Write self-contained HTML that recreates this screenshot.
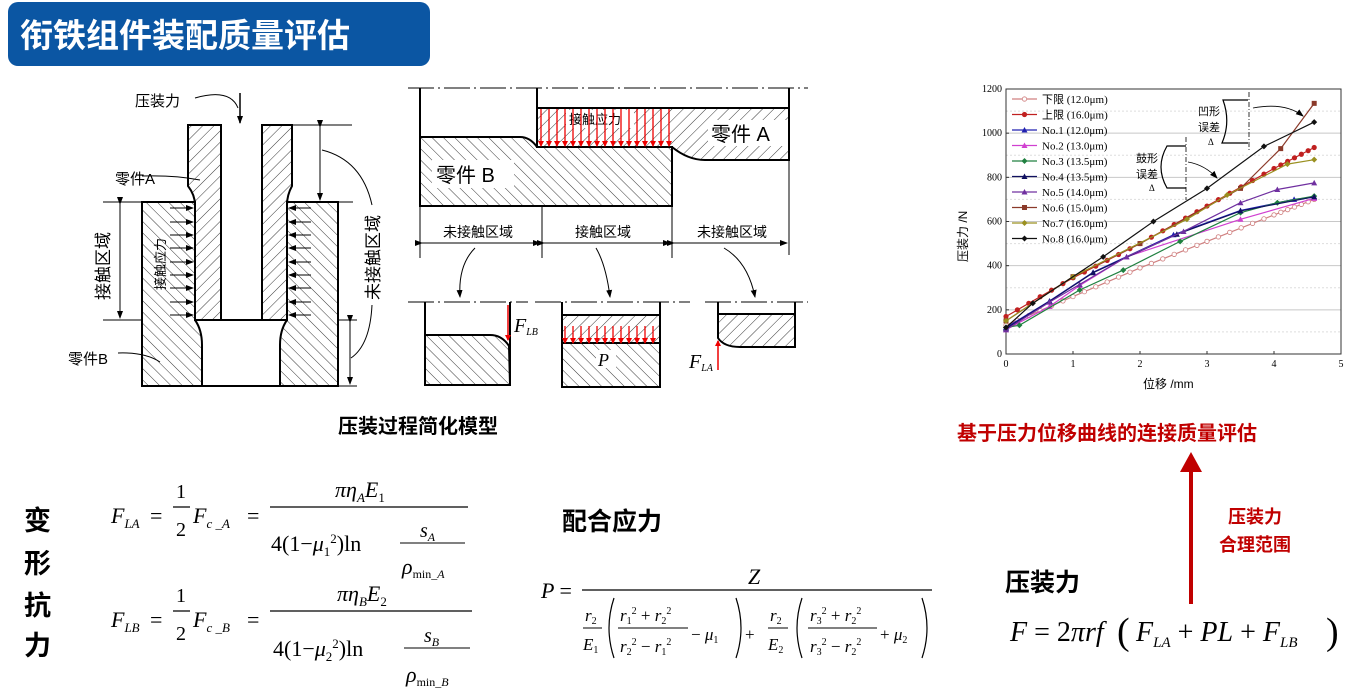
<!DOCTYPE html>
<html><head><meta charset="utf-8"><style>
html,body{margin:0;padding:0;background:#fff;}
svg{display:block;}
.cj{font-family:"Liberation Sans","Noto Sans CJK SC",sans-serif;}
.m{font-family:"Liberation Serif","DejaVu Serif",serif;font-style:italic;}
.r{font-family:"Liberation Serif","DejaVu Serif",serif;}
</style></head><body>
<svg id="s" width="1350" height="698" viewBox="0 0 1350 698" xmlns="http://www.w3.org/2000/svg">
<defs>
<pattern id="hb" patternUnits="userSpaceOnUse" width="8" height="8" patternTransform="rotate(45)"><line x1="0" y1="0" x2="0" y2="8" stroke="#222" stroke-width="0.9"/></pattern>
<pattern id="hf" patternUnits="userSpaceOnUse" width="8" height="8" patternTransform="rotate(-45)"><line x1="0" y1="0" x2="0" y2="8" stroke="#222" stroke-width="0.9"/></pattern>
<marker id="ab" markerWidth="8" markerHeight="8" refX="7" refY="4" orient="auto" markerUnits="userSpaceOnUse"><path d="M0,1 L8,4 L0,7 Z" fill="#000"/></marker>
<marker id="ar" markerWidth="6" markerHeight="8" refX="5" refY="4" orient="auto" markerUnits="userSpaceOnUse"><path d="M0,1 L6,4 L0,7 Z" fill="#e00"/></marker>
</defs>

<rect x="8" y="2" width="422" height="64" rx="10" fill="#0b56a3"/>
<text x="20" y="47" class="cj" font-size="33" font-weight="bold" fill="#fff">衔铁组件装配质量评估</text>

<g stroke="#000" stroke-width="2" fill="url(#hb)">
<path d="M188,125 L221,125 L221,320 L195,320 L195,205 Q195,195 188,186 Z"/>
<path d="M262,125 L292,125 L292,186 Q287,195 287,205 L287,320 L262,320 Z"/>
</g>
<g stroke="#000" stroke-width="2" fill="url(#hf)">
<path d="M142,202 L195,202 L195,320 Q202,330 202,345 L202,386 L142,386 Z"/>
<path d="M287,202 L338,202 L338,386 L280,386 L280,345 Q280,330 287,320 Z"/>
</g>
<line x1="195" y1="320" x2="287" y2="320" stroke="#000" stroke-width="2"/>
<line x1="202" y1="386" x2="280" y2="386" stroke="#000" stroke-width="2"/>
<g stroke="#000" stroke-width="1" fill="none">
<line x1="292" y1="125" x2="352" y2="125"/>
<line x1="287" y1="202" x2="353" y2="202"/>
<line x1="103" y1="202" x2="142" y2="202"/>
<line x1="103" y1="320" x2="142" y2="320"/>
<line x1="338" y1="320" x2="357" y2="320"/>
<line x1="338" y1="386" x2="357" y2="386"/>
<line x1="120" y1="204" x2="120" y2="318" marker-end="url(#ab)" marker-start="url(#ab)"/>
<line x1="320" y1="127" x2="320" y2="200" marker-end="url(#ab)" marker-start="url(#ab)"/>
<line x1="350" y1="322" x2="350" y2="384" marker-end="url(#ab)" marker-start="url(#ab)"/>
<path d="M322,150 Q362,160 372,205"/>
<path d="M372,305 Q370,345 351,358"/>
<path d="M195,98 Q230,88 238,108"/>
<path d="M142,176 Q175,175 200,180"/>
<path d="M118,353 Q145,352 160,362"/>
<line x1="240" y1="93" x2="240" y2="123" stroke-width="1.5" marker-end="url(#ab)"/>
</g>
<g id="carr" stroke="#000" stroke-width="1"></g>
<text x="135" y="106" class="cj" font-size="15">压装力</text>
<text x="115" y="184" class="cj" font-size="15">零件A</text>
<text x="68" y="364" class="cj" font-size="15">零件B</text>
<text class="cj" font-size="17" transform="translate(109,300) rotate(-90)">接触区域</text>
<text class="cj" font-size="17" transform="translate(379,300) rotate(-90)">未接触区域</text>
<text class="cj" font-size="13" transform="translate(165,290) rotate(-90)">接触应力</text>

<g stroke="#000" stroke-width="1" stroke-dasharray="26,4,2,4" fill="none">
<line x1="408" y1="88" x2="808" y2="88"/>
<line x1="408" y1="302" x2="528" y2="302"/>
<line x1="535" y1="302" x2="690" y2="302"/>
<line x1="705" y1="302" x2="808" y2="302"/>
</g>
<g stroke="#000" stroke-width="2">
<path d="M420,137 L520,137 Q530,137 537,147 L672,147 L672,206 L420,206 Z" fill="url(#hf)"/>
<path d="M537,108 L789,108 L789,160 L705,160 Q688,160 672,147 L537,147 Z" fill="url(#hb)"/>
<line x1="420" y1="88" x2="420" y2="137" fill="none"/>
<line x1="537" y1="88" x2="537" y2="108"/>
<line x1="789" y1="88" x2="789" y2="108"/>
</g>
<rect x="566" y="110" width="68" height="18" fill="#fff"/>
<text x="569" y="124" class="cj" font-size="13">接触应力</text>
<rect x="708" y="120" width="80" height="26" fill="#fff"/>
<text x="711" y="141" class="cj" font-size="20">零件 A</text>
<rect x="432" y="160" width="82" height="28" fill="#fff"/>
<text x="436" y="182" class="cj" font-size="20">零件 B</text>
<g id="redtop" stroke="#e00" stroke-width="1.3"></g>
<g stroke="#000" stroke-width="1" fill="none">
<line x1="420" y1="206" x2="420" y2="258"/>
<line x1="542" y1="206" x2="542" y2="258"/>
<line x1="672" y1="206" x2="672" y2="258"/>
<line x1="789" y1="160" x2="789" y2="255"/>
<line x1="422" y1="243" x2="540" y2="243" marker-end="url(#ab)" marker-start="url(#ab)"/>
<line x1="544" y1="243" x2="670" y2="243" marker-end="url(#ab)" marker-start="url(#ab)"/>
<line x1="674" y1="243" x2="787" y2="243" marker-end="url(#ab)" marker-start="url(#ab)"/>
<path d="M475,248 Q458,265 460,297" marker-end="url(#ab)"/>
<path d="M596,248 Q606,265 610,297" marker-end="url(#ab)"/>
<path d="M724,248 Q748,262 755,297" marker-end="url(#ab)"/>
</g>
<text x="443" y="237" class="cj" font-size="14">未接触区域</text>
<text x="575" y="237" class="cj" font-size="14">接触区域</text>
<text x="697" y="237" class="cj" font-size="14">未接触区域</text>
<g stroke="#000" stroke-width="2">
<path d="M425,335 L490,335 Q502,335 509,346 L510,385 L425,385 Z" fill="url(#hf)"/>
<path d="M425,302 L425,385 M510,302 L510,385" fill="none"/>
<rect x="562" y="315" width="98" height="28" fill="url(#hb)"/>
<rect x="562" y="343" width="98" height="44" fill="url(#hf)"/>
<path d="M562,302 L562,315 M660,302 L660,315" fill="none"/>
<path d="M718,314 L795,314 L795,347 L740,347 Q724,347 718,338 Z" fill="url(#hb)"/>
<path d="M718,302 L718,338 M795,302 L795,347" fill="none"/>
</g>
<rect x="596" y="350" width="20" height="18" fill="#fff"/>
<text x="598" y="366" class="m" font-size="18">P</text>
<line x1="508" y1="305" x2="508" y2="340" stroke="#e00" stroke-width="1.5" marker-end="url(#ar)"/>
<line x1="718" y1="370" x2="718" y2="341" stroke="#e00" stroke-width="1.5" marker-end="url(#ar)"/>
<text x="514" y="332" class="m" font-size="20">F<tspan font-size="10" dy="3">LB</tspan></text>
<text x="689" y="368" class="m" font-size="20">F<tspan font-size="10" dy="3">LA</tspan></text>
<g id="redmid" stroke="#e00" stroke-width="1.3"></g>
<text x="338" y="433" class="cj" font-size="20" font-weight="bold">压装过程简化模型</text>

<g id="chart"></g>

<text x="957" y="440" class="cj" font-size="20" font-weight="bold" fill="#c00000">基于压力位移曲线的连接质量评估</text>
<line x1="1191" y1="604" x2="1191" y2="470" stroke="#c00000" stroke-width="4"/>
<path d="M1180,472 L1191,452 L1202,472 Z" fill="#c00000"/>
<text x="1255" y="523" text-anchor="middle" class="cj" font-size="18" font-weight="bold" fill="#c00000">压装力</text>
<text x="1255" y="551" text-anchor="middle" class="cj" font-size="18" font-weight="bold" fill="#c00000">合理范围</text>
<text x="1005" y="591" class="cj" font-size="25" font-weight="bold">压装力</text>
<text x="1010" y="641" class="m" font-size="28">F <tspan font-style="normal">= 2</tspan>π<tspan>rf</tspan></text>
<text x="1117" y="644" class="r" font-size="38">(</text>
<text x="1136" y="641" class="m" font-size="28">F<tspan font-size="15" dy="6">LA</tspan><tspan dy="-6" font-style="normal"> + </tspan>PL<tspan font-style="normal"> + </tspan>F<tspan font-size="15" dy="6">LB</tspan></text>
<text x="1326" y="644" class="r" font-size="38">)</text>

<g class="cj" font-size="27" font-weight="bold">
<text x="24" y="530">变</text><text x="24" y="573">形</text><text x="24" y="615">抗</text><text x="24" y="655">力</text>
</g>
<text x="562" y="530" class="cj" font-size="25" font-weight="bold">配合应力</text>

<g>
<text x="111" y="523" class="m" font-size="22">F<tspan font-size="13" dy="5">LA</tspan></text>
<text x="150" y="523" class="r" font-size="22">=</text>
<text x="176" y="498" class="r" font-size="20">1</text>
<line x1="173" y1="507" x2="190" y2="507" stroke="#000" stroke-width="1.2"/>
<text x="176" y="536" class="r" font-size="20">2</text>
<text x="193" y="523" class="m" font-size="22">F<tspan font-size="13" dy="5">c _A</tspan></text>
<text x="247" y="523" class="r" font-size="22">=</text>
<line x1="270" y1="507" x2="468" y2="507" stroke="#000" stroke-width="1.2"/>
<text x="335" y="497" class="m" font-size="22">πη<tspan font-size="13" dy="5">A</tspan><tspan dy="-5">E</tspan><tspan font-size="13" dy="5" font-style="normal">1</tspan></text>
<text x="271" y="551" class="r" font-size="22">4(1−<tspan font-style="italic">μ</tspan><tspan font-size="13" dy="5">1</tspan><tspan font-size="13" dy="-13">2</tspan><tspan dy="8">)ln</tspan></text>
<line x1="400" y1="543" x2="465" y2="543" stroke="#000" stroke-width="1"/>
<text x="420" y="537" class="m" font-size="20">s<tspan font-size="12" dy="4">A</tspan></text>
<text x="402" y="574" class="m" font-size="22">ρ<tspan font-size="12" dy="4" font-style="normal">min_<tspan font-style="italic">A</tspan></tspan></text>
</g>
<g transform="translate(0,104)">
<text x="111" y="523" class="m" font-size="22">F<tspan font-size="13" dy="5">LB</tspan></text>
<text x="150" y="523" class="r" font-size="22">=</text>
<text x="176" y="498" class="r" font-size="20">1</text>
<line x1="173" y1="507" x2="190" y2="507" stroke="#000" stroke-width="1.2"/>
<text x="176" y="536" class="r" font-size="20">2</text>
<text x="193" y="523" class="m" font-size="22">F<tspan font-size="13" dy="5">c _B</tspan></text>
<text x="247" y="523" class="r" font-size="22">=</text>
<line x1="270" y1="507" x2="472" y2="507" stroke="#000" stroke-width="1.2"/>
<text x="337" y="497" class="m" font-size="22">πη<tspan font-size="13" dy="5">B</tspan><tspan dy="-5">E</tspan><tspan font-size="13" dy="5" font-style="normal">2</tspan></text>
<text x="273" y="552" class="r" font-size="22">4(1−<tspan font-style="italic">μ</tspan><tspan font-size="13" dy="5">2</tspan><tspan font-size="13" dy="-13">2</tspan><tspan dy="8">)ln</tspan></text>
<line x1="404" y1="544" x2="470" y2="544" stroke="#000" stroke-width="1"/>
<text x="424" y="538" class="m" font-size="20">s<tspan font-size="12" dy="4">B</tspan></text>
<text x="406" y="578" class="m" font-size="22">ρ<tspan font-size="12" dy="4" font-style="normal">min_<tspan font-style="italic">B</tspan></tspan></text>
</g>

<text x="541" y="598" class="m" font-size="22">P <tspan font-style="normal">=</tspan></text>
<line x1="582" y1="590" x2="932" y2="590" stroke="#000" stroke-width="1.2"/>
<text x="748" y="584" class="m" font-size="22">Z</text>
<g class="m" font-size="17">
<text x="585" y="621">r<tspan font-size="10" dy="3" font-style="normal">2</tspan></text>
<line x1="583" y1="628" x2="602" y2="628" stroke="#000"/>
<text x="583" y="650">E<tspan font-size="10" dy="3" font-style="normal">1</tspan></text>
<text x="620" y="621">r<tspan font-size="10" dy="3" font-style="normal">1</tspan><tspan font-size="10" dy="-10" font-style="normal">2</tspan><tspan dy="7" font-style="normal"> + </tspan>r<tspan font-size="10" dy="3" font-style="normal">2</tspan><tspan font-size="10" dy="-10" font-style="normal">2</tspan></text>
<line x1="618" y1="628" x2="688" y2="628" stroke="#000"/>
<text x="620" y="652">r<tspan font-size="10" dy="3" font-style="normal">2</tspan><tspan font-size="10" dy="-10" font-style="normal">2</tspan><tspan dy="7" font-style="normal"> − </tspan>r<tspan font-size="10" dy="3" font-style="normal">1</tspan><tspan font-size="10" dy="-10" font-style="normal">2</tspan></text>
<text x="691" y="640"><tspan font-style="normal">− </tspan>μ<tspan font-size="10" dy="3" font-style="normal">1</tspan></text>
<text x="745" y="640" font-style="normal">+</text>
<text x="770" y="621">r<tspan font-size="10" dy="3" font-style="normal">2</tspan></text>
<line x1="768" y1="628" x2="788" y2="628" stroke="#000"/>
<text x="768" y="650">E<tspan font-size="10" dy="3" font-style="normal">2</tspan></text>
<text x="810" y="621">r<tspan font-size="10" dy="3" font-style="normal">3</tspan><tspan font-size="10" dy="-10" font-style="normal">2</tspan><tspan dy="7" font-style="normal"> + </tspan>r<tspan font-size="10" dy="3" font-style="normal">2</tspan><tspan font-size="10" dy="-10" font-style="normal">2</tspan></text>
<line x1="808" y1="628" x2="877" y2="628" stroke="#000"/>
<text x="810" y="652">r<tspan font-size="10" dy="3" font-style="normal">3</tspan><tspan font-size="10" dy="-10" font-style="normal">2</tspan><tspan dy="7" font-style="normal"> − </tspan>r<tspan font-size="10" dy="3" font-style="normal">2</tspan><tspan font-size="10" dy="-10" font-style="normal">2</tspan></text>
<text x="880" y="640"><tspan font-style="normal">+ </tspan>μ<tspan font-size="10" dy="3" font-style="normal">2</tspan></text>
</g>
<g fill="none" stroke="#000" stroke-width="1.2">
<path d="M614,598 Q604,628 614,658"/><path d="M736,598 Q746,628 736,658"/>
<path d="M802,598 Q792,628 802,658"/><path d="M922,598 Q932,628 922,658"/>
</g>
</svg>
<script>
var NS="http://www.w3.org/2000/svg";
function el(p,t,a){var e=document.createElementNS(NS,t);for(var k in a)e.setAttribute(k,a[k]);p.appendChild(e);return e;}
var ca=document.getElementById('carr');
[208,222,235,248,262,275,288,302,315].forEach(function(y){
 el(ca,'line',{x1:170,y1:y,x2:193,y2:y,'marker-end':'url(#ab)'});
 el(ca,'line',{x1:311,y1:y,x2:289,y2:y,'marker-end':'url(#ab)'});
});
var rt=document.getElementById('redtop');
for(var x=541;x<=669;x+=8){el(rt,'line',{x1:x,y1:109,x2:x,y2:146,'marker-end':'url(#ar)'});}
var rm=document.getElementById('redmid');
for(var x=565;x<=658;x+=8){el(rm,'line',{x1:x,y1:326,x2:x,y2:343,'marker-end':'url(#ar)'});}
var g=document.getElementById('chart');
var X0=1006,X1=1341,Y0=354,Y1=89;
function px(x){return X0+x*(X1-X0)/5;} function py(y){return Y0-y*(Y0-Y1)/1200;}
for(var v=100;v<1200;v+=100){el(g,'line',{x1:X0,y1:py(v),x2:X1,y2:py(v),stroke:v%200?'#ddd':'#c8c8c8','stroke-width':1,'stroke-dasharray':v%200?'2,2':''});}
el(g,'rect',{x:X0,y:Y1,width:X1-X0,height:Y0-Y1,fill:'none',stroke:'#333','stroke-width':1});
for(var v=0;v<=1200;v+=200){var t=el(g,'text',{x:X0-4,y:py(v)+3,'font-size':10,'text-anchor':'end','class':'r'});t.textContent=v;el(g,'line',{x1:X0,y1:py(v),x2:X0+3,y2:py(v),stroke:'#333'});}
for(var v=0;v<=5;v++){var t=el(g,'text',{x:px(v),y:Y0+13,'font-size':10,'text-anchor':'middle','class':'r'});t.textContent=v;el(g,'line',{x1:px(v),y1:Y0,x2:px(v),y2:Y0-3,stroke:'#333'});}
var t=el(g,'text',{x:1143,y:388,'font-size':12,'class':'cj'});t.textContent='位移 /mm';
t=el(g,'text',{'font-size':12,'class':'cj',transform:'translate(967,262) rotate(-90)'});t.textContent='压装力 /N';
var S=[
['下限 (12.0μm)','#d08080','oc',[[0,130],[1,260],[2,390],[3,510],[4,630],[4.6,700]],true],
['上限 (16.0μm)','#c02020','dot',[[0,170],[1,345],[2,500],[3,670],[4,840],[4.6,935]],true],
['No.1 (12.0μm)','#2020b0','tri',[[0,120],[0.65,240],[1.3,370],[2.5,540],[3.5,650],[4.3,700],[4.6,710]]],
['No.2 (13.0μm)','#d040d0','tri',[[0,110],[0.65,215],[1.1,310],[1.8,440],[3.5,610],[4.6,705]]],
['No.3 (13.5μm)','#208040','dia',[[0,120],[0.2,130],[1.1,290],[1.75,380],[2.6,510],[3.5,640],[4.05,685],[4.6,715]]],
['No.4 (13.5μm)','#101060','tri',[[0,115],[0.65,238],[1.3,368],[2.55,542],[3.5,648],[4.6,712]]],
['No.5 (14.0μm)','#7030a0','tri',[[0,110],[0.65,235],[1.1,315],[1.8,440],[2.65,555],[3.5,685],[4.05,745],[4.6,775]]],
['No.6 (15.0μm)','#8b3a2a','sq',[[0,150],[1,350],[2,500],[3.5,750],[4.1,930],[4.6,1135]]],
['No.7 (16.0μm)','#9a9020','dia',[[0,150],[1,350],[2.7,610],[3.3,720],[4.2,860],[4.6,880]]],
['No.8 (16.0μm)','#111','dia',[[0,120],[0.4,230],[1.45,440],[2.2,600],[3,750],[3.85,940],[4.6,1050]]]
];
function mk(x,y,c,type){
 if(type=='oc')el(g,'circle',{cx:x,cy:y,r:2.2,fill:'#fff',stroke:c,'stroke-width':0.8});
 else if(type=='dot')el(g,'circle',{cx:x,cy:y,r:2.6,fill:c});
 else if(type=='sq')el(g,'rect',{x:x-2.5,y:y-2.5,width:5,height:5,fill:c});
 else if(type=='tri')el(g,'path',{d:'M'+(x-3)+','+(y+2.5)+' L'+x+','+(y-3)+' L'+(x+3)+','+(y+2.5)+'Z',fill:c});
 else el(g,'path',{d:'M'+x+','+(y-3)+' L'+(x+3)+','+y+' L'+x+','+(y+3)+' L'+(x-3)+','+y+'Z',fill:c});
}
S.forEach(function(s,i){
 var d=s[3].map(function(p,j){return (j?'L':'M')+px(p[0]).toFixed(1)+','+py(p[1]).toFixed(1);}).join(' ');
 el(g,'path',{d:d,fill:'none',stroke:s[1],'stroke-width':1.2});
 if(s[4]){ var pts=s[3];for(var k=0;k<pts.length-1;k++){for(var f=0;f<1;f+=0.17){var xx=pts[k][0]+(pts[k+1][0]-pts[k][0])*f,yy=pts[k][1]+(pts[k+1][1]-pts[k][1])*f;mk(px(xx),py(yy),s[1],s[2]);}} mk(px(pts[pts.length-1][0]),py(pts[pts.length-1][1]),s[1],s[2]);}
 else s[3].forEach(function(p){mk(px(p[0]),py(p[1]),s[1],s[2]);});
 var ly=99+i*15.5;
 el(g,'line',{x1:1012,y1:ly,x2:1037,y2:ly,stroke:s[1],'stroke-width':1.2});mk(1024.5,ly,s[1],s[2]);
 var tt=el(g,'text',{x:1042,y:ly+4,'font-size':11,'class':'r'});tt.textContent=s[0];
});
el(g,'path',{d:'M1248,100 L1223,100 Q1231,122 1222,143 L1248,143',fill:'none',stroke:'#000','stroke-width':1.2});
el(g,'line',{x1:1249,y1:92,x2:1249,y2:152,stroke:'#000','stroke-width':0.8,'stroke-dasharray':'5,2,1,2'});
el(g,'path',{d:'M1186,146 L1167,146 Q1155,167 1167,188 L1186,188',fill:'none',stroke:'#000','stroke-width':1.2});
el(g,'line',{x1:1186,y1:137,x2:1186,y2:200,stroke:'#000','stroke-width':0.8,'stroke-dasharray':'5,2,1,2'});
el(g,'path',{d:'M1253,108 Q1285,102 1303,116',fill:'none',stroke:'#000','stroke-width':0.8,'marker-end':'url(#ab)'});
el(g,'path',{d:'M1188,162 Q1205,165 1217,178',fill:'none',stroke:'#000','stroke-width':0.8,'marker-end':'url(#ab)'});
[['凹形',1198,115],['误差',1198,131],['鼓形',1136,162],['误差',1136,178]].forEach(function(a){var t=el(g,'text',{x:a[1],y:a[2],'font-size':11,'class':'cj'});t.textContent=a[0];});
[['Δ',1208,145],['Δ',1149,191]].forEach(function(a){var t=el(g,'text',{x:a[1],y:a[2],'font-size':9,'class':'r'});t.textContent=a[0];});
</script>
</body></html>
